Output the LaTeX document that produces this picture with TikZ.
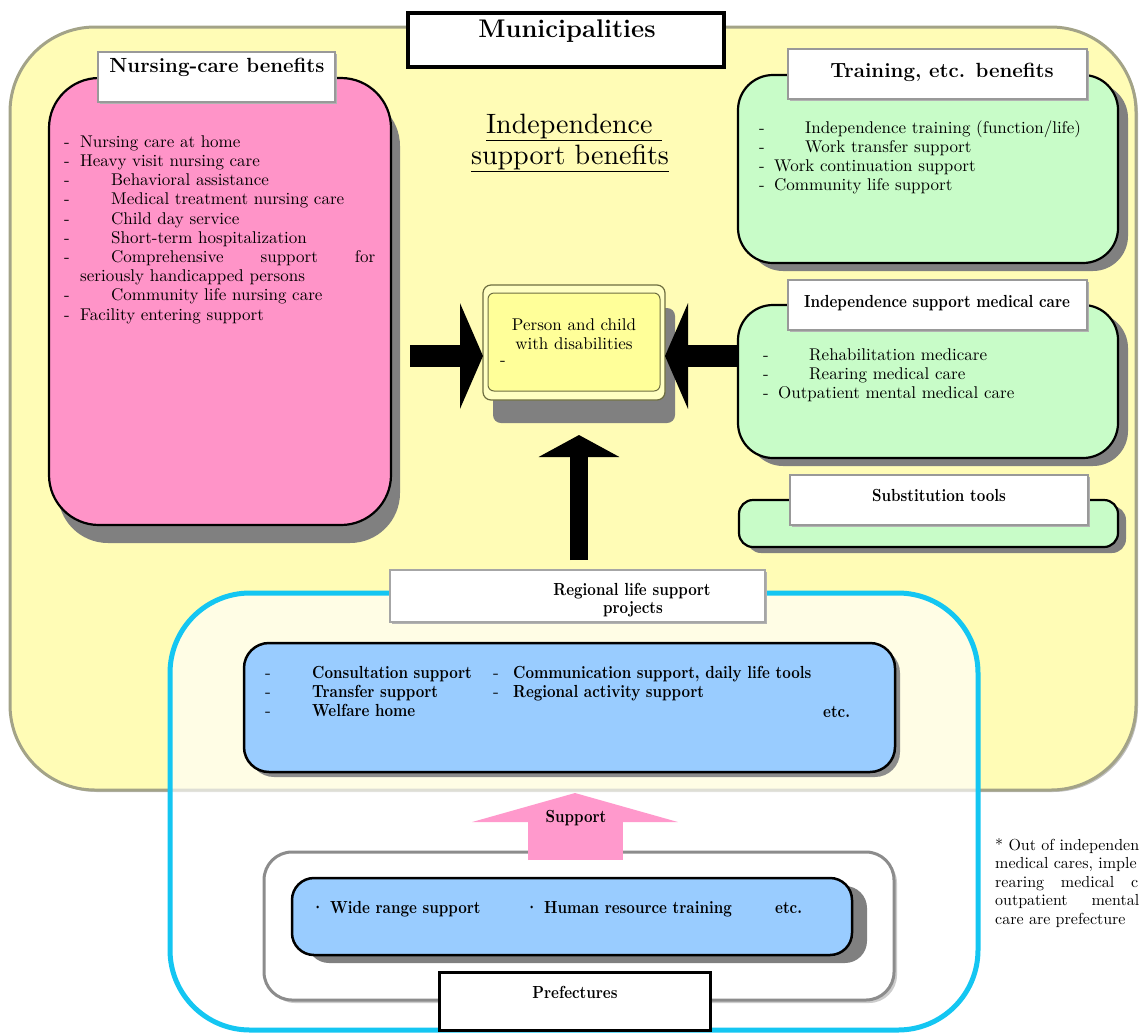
\documentclass[tikz,border=0pt]{standalone}
\usepackage{fontspec}
\newfontfamily\wideserif{lmroman10-regular.otf}
\newfontfamily\condbf{lmroman10-bold.otf}[FakeStretch=0.85]
\usetikzlibrary{arrows.meta,calc,shadows}
\definecolor{bgyellow}{HTML}{FFFCB6}
\definecolor{muniedge}{HTML}{A3A388}
\definecolor{pinkbox}{HTML}{FF94C8}
\definecolor{greenbox}{HTML}{C8FCC8}
\definecolor{bluebox}{HTML}{99CCFF}
\definecolor{cyanline}{HTML}{14C6F2}
\definecolor{pinkarrow}{HTML}{FF99CC}
\definecolor{personfill}{HTML}{FFFF99}
\definecolor{personedge}{HTML}{6E6E40}
\newcommand\dashitem[2]{\strut\makebox[#1][l]{-}#2}
\newcommand\bfdash[2]{\strut\makebox[#1][l]{\wideserif -}#2}
\tikzset{
  panel/.style={rectangle, rounded corners=#1, inner sep=0pt, outer sep=0pt, anchor=north west, draw=black, line width=2.2pt},
  panel/.default=30pt,
  tabbox/.style={rectangle, inner sep=0pt, outer sep=0pt, anchor=north west, fill=white, draw=black!40, line width=1.2pt,
    drop shadow={shadow xshift=2pt, shadow yshift=-2pt, fill=black!30, opacity=1}},
  headbf/.style={font=\bfseries\fontsize{20.5}{23}\selectfont, anchor=base, inner sep=0pt},
  smallbf/.style={font=\condbf\fontsize{17.5}{19}\selectfont, anchor=base, inner sep=0pt},
  listtxt/.style={font=\wideserif\fontsize{17}{19.2}\selectfont, align=left, anchor=north west, inner sep=0pt},
  bflist/.style={font=\condbf\fontsize{17.5}{19}\selectfont, align=left, anchor=north west, inner sep=0pt},
  notetxt/.style={font=\wideserif\fontsize{16}{18.5}\selectfont, anchor=base west, inner sep=0pt},
  regtxt/.style={font=\wideserif\fontsize{17}{19}\selectfont, anchor=base, inner sep=0pt},
}
\begin{document}
\begin{tikzpicture}[x=1pt,y=-1pt]
\useasboundingbox (0,0) rectangle (1139,1034);

% ---- Municipalities area
\node[panel=85pt, fill=bgyellow, draw=muniedge, line width=3pt, minimum width=1126pt, minimum height=763pt,
  drop shadow={shadow xshift=2pt, shadow yshift=-2pt, fill=black!25, opacity=1}] (muni) at (10,27) {};
\node[rectangle, anchor=north west, inner sep=0pt, outer sep=0pt, fill=white, draw=black, line width=4pt,
  minimum width=316pt, minimum height=54pt] (munitab) at (408,13) {};
\node[font=\bfseries\fontsize{25.5}{28}\selectfont, anchor=base, inner sep=0pt] (munitxt) at (567,37) {Municipalities};

% ---- Nursing-care benefits
\node[panel=50pt, fill=pinkbox, minimum width=342pt, minimum height=447pt,
  drop shadow={shadow xshift=9pt, shadow yshift=-18pt, fill=black!50, opacity=1}] (pink) at (49,78) {};
\node[tabbox, minimum width=237pt, minimum height=50pt] (pinktab) at (98,52) {};
\node[headbf] (pinkhead) at (217,72) {Nursing-care benefits};
\node[listtxt] (pinklist) at (64,133.6) {%
\dashitem{16pt}{Nursing care at home}\\
\dashitem{16pt}{Heavy visit nursing care}\\
\dashitem{47pt}{Behavioral assistance}\\
\dashitem{47pt}{Medical treatment nursing care}\\
\dashitem{47pt}{Child day service}\\
\dashitem{47pt}{Short-term hospitalization}\\
\dashitem{47pt}{\makebox[264pt][s]{Comprehensive support for}}\\
\strut\hspace{16pt}seriously handicapped persons\\
\dashitem{47pt}{Community life nursing care}\\
\dashitem{16pt}{Facility entering support}};

% ---- Independence support benefits title
\node[font=\wideserif\fontsize{28}{31}\selectfont, anchor=base, inner sep=0pt] (ist1) at (574,133) {\underline{Independence\ }};
\node[font=\wideserif\fontsize{28}{31}\selectfont, anchor=base, inner sep=0pt] (ist2) at (570,164) {\underline{support benefits}};

% ---- Training, etc. benefits
\node[panel=35pt, fill=greenbox, minimum width=380pt, minimum height=188pt,
  drop shadow={shadow xshift=10pt, shadow yshift=-8pt, fill=black!50, opacity=1}] (train) at (738,75) {};
\node[tabbox, minimum width=299pt, minimum height=50pt] (traintab) at (788,49) {};
\node[headbf] (trainhead) at (942,77) {Training, etc. benefits};
\node[listtxt] (trainlist) at (759,119.6) {%
\dashitem{46pt}{Independence training (function/life)}\\
\dashitem{46pt}{Work transfer support}\\
\dashitem{15pt}{Work continuation support}\\
\dashitem{15pt}{Community life support}};

% ---- Independence support medical care
\node[panel=35pt, fill=greenbox, minimum width=380pt, minimum height=153pt,
  drop shadow={shadow xshift=10pt, shadow yshift=-8pt, fill=black!50, opacity=1}] (med) at (738,305) {};
\node[tabbox, minimum width=299pt, minimum height=50pt] (medtab) at (788,280) {};
\node[smallbf] (medhead) at (937,307) {Independence support medical care};
\node[listtxt] (medlist) at (763,346.6) {%
\dashitem{46pt}{Rehabilitation medicare}\\
\dashitem{46pt}{Rearing medical care}\\
\dashitem{15pt}{Outpatient mental medical care}};

% ---- Substitution tools
\node[panel=14pt, fill=greenbox, minimum width=379pt, minimum height=47pt,
  drop shadow={shadow xshift=8pt, shadow yshift=-6pt, fill=black!50, opacity=1}] (subst) at (739,500) {};
\node[tabbox, minimum width=298pt, minimum height=50pt] (substtab) at (790,475) {};
\node[smallbf] (substhead) at (939,501) {Substitution tools};

% ---- Regional life support projects (cyan frame)
\node[rectangle, rounded corners=80pt, anchor=north west, inner sep=0pt, outer sep=0pt,
  draw=cyanline, line width=5pt, fill=white, fill opacity=0.65,
  minimum width=808pt, minimum height=437pt] (cyanbox) at (170,593) {};

% person box and big black arrows
\coordinate (Lstart) at (410,356);
\coordinate (Utip) at (579,435);
\node[rectangle, rounded corners=8pt, anchor=north west, inner sep=0pt, outer sep=0pt,
  fill=personfill!60!white, draw=personedge, line width=1.2pt, minimum width=182pt, minimum height=115pt,
  drop shadow={shadow xshift=10pt, shadow yshift=-23pt, fill=black!50, opacity=1}] (person) at (483,285) {};
\node[rectangle, rounded corners=6pt, anchor=north west, inner sep=0pt, outer sep=0pt,
  fill=personfill, draw=personedge, line width=1pt, minimum width=172pt, minimum height=98pt] (personin) at (488,293) {};
\node[regtxt] (ptxt1) at (574,330) {Person and child};
\node[regtxt] (ptxt2) at (574,349) {with disabilities};
\node[regtxt] (ptxt3) at (503,365) {-};

\draw[line width=22pt, -{Triangle[length=23pt,width=105pt]}] (Lstart) -- (Lstart -| person.west);
\draw[line width=22pt, -{Triangle[length=23pt,width=105pt]}] (med.west |- Lstart) -- (person.east |- Lstart);

\node[tabbox, minimum width=375pt, minimum height=52pt, draw=black!35] (regtab) at (390,570) {};
\draw[line width=18pt, -{Triangle[length=22pt,width=80pt]}] ($(regtab.north -| Utip)+(0,-10)$) -- (Utip);
\node[smallbf] (reghead1) at (632,595) {Regional life support};
\node[smallbf] (reghead2) at (633,613) {projects};

\node[panel=25pt, fill=bluebox, line width=2.5pt, minimum width=651pt, minimum height=129pt,
  drop shadow={shadow xshift=5pt, shadow yshift=-5pt, fill=black!45, opacity=1}] (regbox) at (244,643) {};
\node[bflist] (reglist1) at (265,664.7) {%
\bfdash{47pt}{Consultation support}\\
\bfdash{47pt}{Transfer support}\\
\bfdash{47pt}{Welfare home}};
\node[bflist] (reglist2) at (493,664.7) {%
\bfdash{20pt}{Communication support, daily life tools}\\
\bfdash{20pt}{Regional activity support}};
\node[smallbf, anchor=base west] (regetc) at (823,717) {etc.};

% ---- Prefectures
\node[panel=28pt, fill=white, draw=black!45, line width=3pt, minimum width=630pt, minimum height=148pt,
  drop shadow={shadow xshift=3pt, shadow yshift=-3pt, fill=black!20, opacity=1}] (pgray) at (264,852) {};
\node[panel=22pt, fill=bluebox, line width=2.5pt, minimum width=560pt, minimum height=77pt,
  drop shadow={shadow xshift=15pt, shadow yshift=-8pt, fill=black!50, opacity=1}] (pblue) at (292,878) {};
\node[smallbf, anchor=base west] (pitem1) at (311,913) {· Wide range support};
\node[smallbf, anchor=base west] (pitem2) at (525,913) {· Human resource training};
\node[smallbf, anchor=base west] (pitem3) at (775,913) {etc.};
\node[rectangle, anchor=north west, inner sep=0pt, outer sep=0pt, fill=white, draw=black, line width=3pt,
  minimum width=271pt, minimum height=58pt] (preftab) at (439,972) {};
\node[smallbf] (preftxt) at (575,998) {Prefectures};

% pink support arrow
\coordinate (Stip) at (575,793);
\draw[line width=95pt, draw=pinkarrow, -{Triangle[length=29pt,width=205pt]}] ($(pgray.north -| Stip)+(0,8)$) -- (Stip);
\node[smallbf] (suplbl) at (576,822) {Support};

% ---- note
\node[notetxt] (n1) at (995,850) {* Out of independen};
\node[notetxt] (n2) at (995,868.5) {medical cares, imple};
\node[notetxt] (n3) at (995,887) {\makebox[143pt][s]{rearing medical c}};
\node[notetxt] (n4) at (995,905.5) {\makebox[144pt][s]{outpatient mental}};
\node[notetxt] (n5) at (995,924) {care are prefecture};
\end{tikzpicture}
\end{document}
